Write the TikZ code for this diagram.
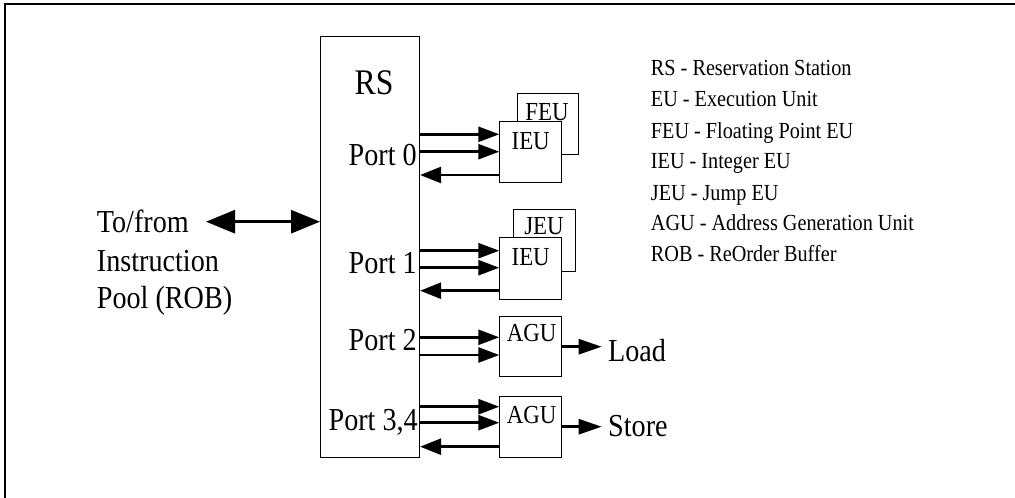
\documentclass[tikz,border=0pt]{standalone}
\usepackage{fontspec}
\setmainfont{Liberation Serif}[FakeStretch=0.88]
\usetikzlibrary{arrows.meta}
\begin{document}
\begin{tikzpicture}[x=1pt,y=-1pt,
  box/.style={draw,line width=1.1pt,minimum width=61.4pt,minimum height=61.3pt,inner sep=0pt,anchor=north west,fill=white},
  boxtxt/.style={inner sep=0pt,anchor=base,font=\fontsize{26}{28}\selectfont},
  big/.style={inner sep=0pt,font=\fontsize{32}{36}\selectfont},
  leg/.style={inner sep=0pt,anchor=base west,font=\fontsize{23}{28}\selectfont},
  fwd/.style={line width=2.6pt,-{Triangle[length=21pt,width=15pt]}},
  back/.style={line width=2.6pt,-{Triangle[length=21pt,width=16pt]}},
  dbl/.style={line width=3pt,{Triangle[length=29pt,width=23pt]}-{Triangle[length=29pt,width=23pt]}}
]
\useasboundingbox (0,0) rectangle (1015,498);
% frame
\draw[line width=2pt] (5,498) -- (5,4.3) -- (1015,4.3);
% RS box
\node[draw,line width=1.1pt,inner sep=0pt,anchor=north west,minimum width=99pt,minimum height=421pt] (rs) at (320,36) {};
\node[inner sep=0pt,anchor=base,font=\fontsize{36}{40}\selectfont] (rstxt) at (374,94.3) {RS};
\node[big,anchor=base east] (p0) at (417,165) {Port 0};
\node[big,anchor=base east] (p1) at (417,273) {Port 1};
\node[big,anchor=base east] (p2) at (417,350) {Port 2};
\node[big,anchor=base east] (p34) at (418,430) {Port 3,4};
% port 0 units
\node[box] (feu) at (516.7,92.7) {};
\node[boxtxt] (feutxt) at (547,120) {FEU};
\node[box] (ieu0) at (499.3,120.7) {};
\node[boxtxt] (ieu0txt) at (530.7,149.3) {IEU};
% port 1 units
\node[box] (jeu) at (513.3,209.3) {};
\node[boxtxt] (jeutxt) at (544,234) {JEU};
\node[box] (ieu1) at (499.3,237.3) {};
\node[boxtxt] (ieu1txt) at (530.7,265) {IEU};
% port 2
\node[box,minimum height=60.3pt] (agu2) at (499.3,315.7) {};
\node[boxtxt] (agu2txt) at (531.7,341.7) {AGU};
% port 3,4
\node[box] (agu34) at (499.3,396) {};
\node[boxtxt] (agu34txt) at (531.7,423.3) {AGU};
% arrows port 0
\draw[fwd] (rs.east |- 0,134.3) -- (ieu0.west |- 0,134.3);
\draw[fwd] (rs.east |- 0,151.7) -- (ieu0.west |- 0,151.7);
\draw[back] (ieu0.west |- 0,175) -- (rs.east |- 0,175);
% arrows port 1
\draw[fwd] (rs.east |- 0,250.7) -- (ieu1.west |- 0,250.7);
\draw[fwd] (rs.east |- 0,267.7) -- (ieu1.west |- 0,267.7);
\draw[back] (ieu1.west |- 0,290.7) -- (rs.east |- 0,290.7);
% arrows port 2
\draw[fwd] (rs.east |- 0,337.3) -- (agu2.west |- 0,337.3);
\draw[fwd] (rs.east |- 0,355) -- (agu2.west |- 0,355);
% arrows port 3,4
\draw[fwd] (rs.east |- 0,406.7) -- (agu34.west |- 0,406.7);
\draw[fwd] (rs.east |- 0,422.7) -- (agu34.west |- 0,422.7);
\draw[back] (agu34.west |- 0,446.7) -- (rs.east |- 0,446.7);
% load / store
\node[big,anchor=base west] (load) at (608,361.7) {Load};
\node[big,anchor=base west] (store) at (608,436.7) {Store};
\coordinate (loadend) at (601.7,346.7);
\coordinate (storeend) at (601.7,426.7);
\draw[fwd,-{Triangle[length=23pt,width=15pt]}] (agu2.east |- loadend) -- (loadend);
\draw[fwd,-{Triangle[length=23pt,width=15pt]}] (agu34.east |- storeend) -- (storeend);
% left side
\node[big,anchor=base west] (tofrom) at (96.7,232) {To/from};
\node[big,anchor=base west] (instr) at (96.7,271.7) {Instruction};
\node[big,anchor=base west] (pool) at (96.7,308.3) {Pool (ROB)};
\coordinate (dblend) at (206,221.7);
\draw[dbl] (dblend) -- (rs.west |- dblend);
% legend
\node[leg] (leg1) at (650.7,75) {RS - Reservation Station};
\node[leg] (leg2) at (650.7,106.7) {EU - Execution Unit};
\node[leg] (leg3) at (650.7,138.3) {FEU - Floating Point EU};
\node[leg] (leg4) at (650.7,168.3) {IEU - Integer EU};
\node[leg] (leg5) at (650.7,200) {JEU - Jump EU};
\node[leg] (leg6) at (650.7,230.7) {AGU - Address Generation Unit};
\node[leg] (leg7) at (650.7,261.7) {ROB - ReOrder Buffer};
\end{tikzpicture}
\end{document}
